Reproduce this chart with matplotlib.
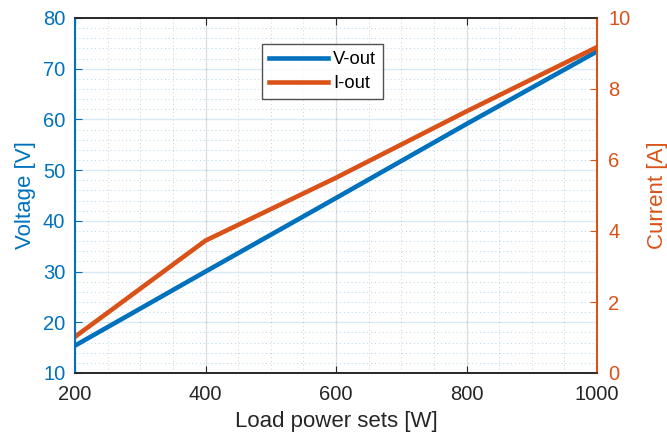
import matplotlib
matplotlib.use("Agg")
import matplotlib.pyplot as plt
from matplotlib.ticker import MultipleLocator

plt.rcParams['font.family'] = ['Liberation Sans', 'DejaVu Sans']

load_power = [200, 400, 600, 800, 1000]
v_out = [15.4, 30.0, 44.5, 59.1, 73.4]
i_out = [1.02, 3.73, 5.50, 7.37, 9.18]

blue = '#0072BD'
orange = '#D95319'
dark = '#262626'

fig = plt.figure(figsize=(6.67, 4.41), dpi=100)
ax = fig.add_axes([75/667, 1 - 373/441, (597-75)/667, (373-18)/441])
ax2 = ax.twinx()

ax.set_xlim(200, 1000)
ax.set_ylim(10, 80)
ax2.set_ylim(0, 10)

ax.xaxis.set_major_locator(MultipleLocator(200))
ax.xaxis.set_minor_locator(MultipleLocator(50))
ax.yaxis.set_major_locator(MultipleLocator(10))
ax.yaxis.set_minor_locator(MultipleLocator(2))
ax2.yaxis.set_major_locator(MultipleLocator(2))

# grids
ax.grid(True, which='major', axis='x', color='#262626', alpha=0.15, linewidth=1.0)
ax.grid(True, which='major', axis='y', color=blue, alpha=0.15, linewidth=1.0)
ax.grid(True, which='minor', axis='x', color='#262626', alpha=0.22, linewidth=0.7, linestyle=(0, (1, 3)))
ax.grid(True, which='minor', axis='y', color=blue, alpha=0.3, linewidth=0.7, linestyle=(0, (1, 3)))
ax.set_axisbelow(True)

l1, = ax.plot(load_power, v_out, color=blue, linewidth=3.3, label='V-out')
l2, = ax2.plot(load_power, i_out, color=orange, linewidth=3.3, label='I-out')

# spines
for s in ['top', 'bottom']:
    ax.spines[s].set_color(dark)
    ax2.spines[s].set_color(dark)
ax.spines['left'].set_color(blue)
ax2.spines['left'].set_color(blue)
ax.spines['right'].set_color(orange)
ax2.spines['right'].set_color(orange)
for a in (ax, ax2):
    for s in a.spines.values():
        s.set_linewidth(1.2)
ax.spines['left'].set_linewidth(1.5)
ax2.spines['right'].set_linewidth(1.5)

ax.tick_params(axis='x', which='major', direction='in', top=True, length=5, colors=dark, labelsize=14.5, pad=9)
ax.tick_params(axis='x', which='minor', bottom=False, top=False)
ax.tick_params(axis='y', which='major', direction='in', length=5, colors=blue, labelsize=14.5, pad=7)
ax.tick_params(axis='y', which='minor', left=False)
ax2.tick_params(axis='y', which='major', direction='in', length=5, colors=orange, labelsize=14.5, pad=8)

ax.set_xlabel('Load power sets [W]', fontsize=16, color=dark, labelpad=5)
ax.set_ylabel('Voltage [V]', fontsize=16, color=blue, labelpad=5)
ax2.set_ylabel('Current [A]', fontsize=16, color=orange, labelpad=12)

leg = ax2.legend(handles=[l1, l2], loc='upper left',
                 bbox_to_anchor=((262-75)/522, (373-44)/355),
                 fontsize=13.2, frameon=True, fancybox=False, edgecolor=dark,
                 handlelength=3.2, borderpad=0.38, labelspacing=0.38, handletextpad=0.3,
                 borderaxespad=0)
leg.get_frame().set_linewidth(1.0)

fig.savefig('out.png', dpi=100)
